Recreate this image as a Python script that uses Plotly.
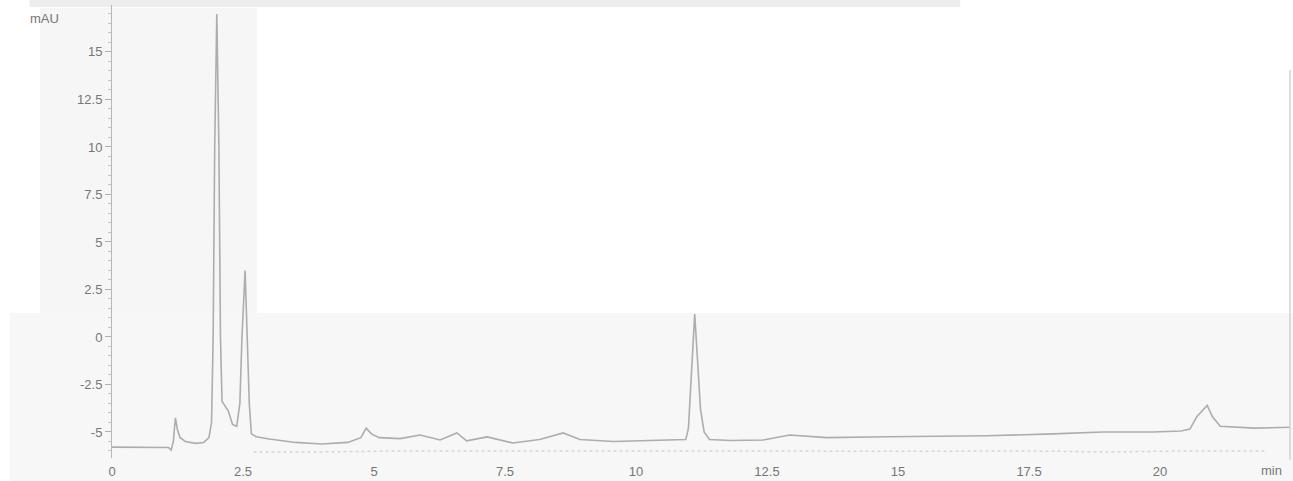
import plotly.graph_objects as go

# Main chromatogram trace (time in min, signal in mAU)
time_min = [0.00, 0.50, 1.00, 1.08, 1.13, 1.17, 1.21, 1.25, 1.30, 1.40, 1.60, 1.75, 1.85, 1.90,
            1.93, 1.96, 2.00, 2.04, 2.07, 2.10, 2.15, 2.22, 2.30, 2.38, 2.44, 2.48, 2.54, 2.58,
            2.62, 2.66, 2.75, 3.00, 3.50, 4.00, 4.50, 4.75, 4.85, 4.95, 5.10, 5.50, 5.88, 6.26,
            6.58, 6.77, 7.16, 7.65, 8.16, 8.61, 8.93, 9.57, 10.20, 10.84, 10.95, 11.00, 11.05,
            11.12, 11.18, 11.23, 11.30, 11.40, 11.80, 12.43, 12.93, 13.64, 14.80, 16.70, 17.96,
            18.90, 19.87, 20.40, 20.57, 20.70, 20.90, 21.00, 21.15, 21.40, 21.80, 22.48]
signal_mau = [-5.80, -5.80, -5.80, -5.82, -5.95, -5.50, -4.26, -4.90, -5.30, -5.50, -5.60, -5.55,
              -5.30, -4.50, 0.00, 10.00, 17.00, 10.00, 0.00, -3.40, -3.60, -3.90, -4.60, -4.70,
              -3.50, 0.00, 3.50, 0.50, -3.50, -5.10, -5.25, -5.37, -5.55, -5.63, -5.55, -5.30,
              -4.80, -5.10, -5.30, -5.35, -5.16, -5.42, -5.05, -5.47, -5.26, -5.58, -5.40, -5.05,
              -5.40, -5.50, -5.47, -5.42, -5.40, -4.80, -2.00, 1.20, -1.50, -3.80, -5.00, -5.40,
              -5.45, -5.42, -5.16, -5.30, -5.25, -5.20, -5.10, -5.00, -5.00, -4.95, -4.85, -4.20,
              -3.60, -4.20, -4.70, -4.75, -4.80, -4.75]

# Faint secondary (dotted) trace near the bottom
time2_min = [2.70, 4.00, 5.50, 7.00, 8.50, 10.00, 11.50, 13.00, 14.50, 16.00, 17.50, 19.00, 20.50, 22.00]
signal2_mau = [-6.05, -6.05, -6.00, -6.00, -5.98, -5.98, -5.97, -6.00, -6.02, -6.02, -6.00, -6.05, -6.00, -6.00]

# Axis ticks
x_tickvals = [0, 2.5, 5, 7.5, 10, 12.5, 15, 17.5, 20]
x_ticktext = ["0", "2.5", "5", "7.5", "10", "12.5", "15", "17.5", "20"]
y_tickvals = [-5, -2.5, 0, 2.5, 5, 7.5, 10, 12.5, 15]
y_ticktext = ["-5", "-2.5", "0", "2.5", "5", "7.5", "10", "12.5", "15"]

fig = go.Figure()
fig.add_trace(go.Scatter(x=time2_min, y=signal2_mau, mode="lines",
                         line=dict(color="#d6d6d6", width=1.5, dash="dot"),
                         hoverinfo="skip", showlegend=False))
fig.add_trace(go.Scatter(x=time_min, y=signal_mau, mode="lines",
                         line=dict(color="#adadad", width=1.6),
                         showlegend=False))

font = dict(family="Liberation Sans, Arial, sans-serif", size=13, color="#767676")

fig.update_layout(
    width=1293, height=481,
    margin=dict(l=112, r=3, t=5, b=23),
    paper_bgcolor="white", plot_bgcolor="rgba(0,0,0,0)",
    font=font,
    xaxis=dict(range=[0, 22.48], tickvals=x_tickvals, ticktext=x_ticktext,
               showgrid=False, zeroline=False, showline=False, ticks="",
               tickfont=font, fixedrange=True, ticklabelstandoff=4),
    yaxis=dict(range=[-6.37, 17.47], tickvals=y_tickvals, ticktext=y_ticktext,
               showgrid=False, zeroline=False, showline=True, linecolor="#b8b8b8",
               linewidth=1, ticks="outside", ticklen=6, tickcolor="#b0b0b0",
               minor=dict(dtick=0.5, ticks="outside", ticklen=3, tickcolor="#c4c4c4"),
               tickfont=font, fixedrange=True),
    shapes=[
        dict(type="rect", xref="paper", yref="paper", x0=-0.0611, x1=0.1231, y0=0.3157, y1=0.9934,
             fillcolor="#f6f6f6", line=dict(width=0), layer="below"),
        dict(type="rect", xref="paper", yref="paper", x0=-0.0866, x1=1.0025, y0=-0.0508, y1=0.320,
             fillcolor="#f7f7f7", line=dict(width=0), layer="below"),
        dict(type="rect", xref="paper", yref="paper", x0=-0.0700, x1=0.72, y0=0.9956, y1=1.011,
             fillcolor="#ededed", line=dict(width=0), layer="below"),
        dict(type="line", xref="paper", yref="paper", x0=1.0, x1=1.0, y0=-0.004, y1=0.8565,
             line=dict(color="#d0d0d0", width=1.5)),
    ],
    annotations=[
        dict(text="mAU", xref="paper", yref="paper", x=-0.0569, y=0.971, showarrow=False,
             font=font, xanchor="center", yanchor="middle"),
        dict(text="min", xref="paper", yref="paper", x=0.9847, y=-0.0265, showarrow=False,
             font=font, xanchor="center", yanchor="middle"),
    ],
)

fig.write_html("out.html", config={"displayModeBar": False},
               post_script="document.body.style.margin='0';document.body.style.overflow='hidden';")
